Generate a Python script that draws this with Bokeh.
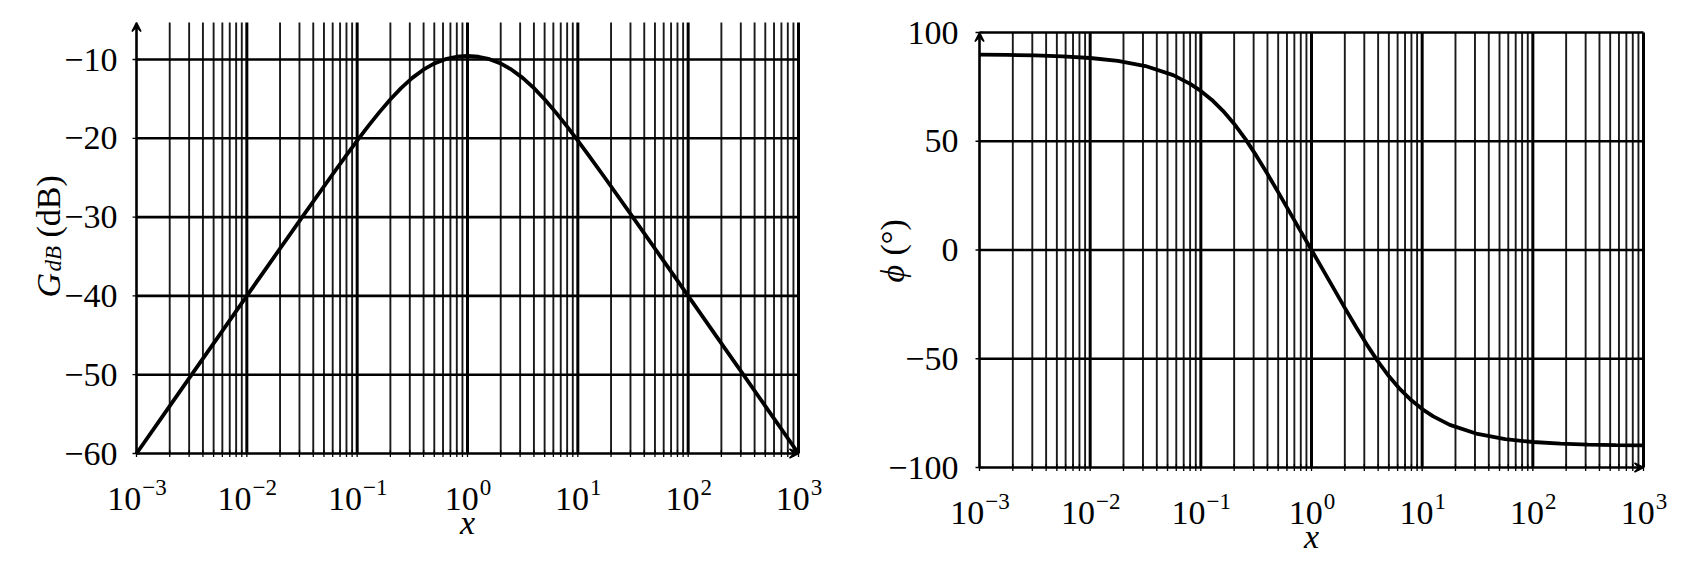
import math
from bokeh.plotting import figure
from bokeh.layouts import row
from bokeh.models import Label, Arrow, VeeHead, ColumnDataSource, Range1d
from bokeh.embed import file_html
from bokeh.resources import INLINE

# ---------------- data ----------------
decades = [1e-3, 1e-2, 1e-1, 1e0, 1e1, 1e2, 1e3]
exponents = ["\u22123", "\u22122", "\u22121", "0", "1", "2", "3"]
gain_ticks = [-60, -50, -40, -30, -20, -10]
phase_ticks = [-100, -50, 0, 50, 100]

x_vals = [0.001, 0.001778, 0.003162, 0.005623, 0.01, 0.01778, 0.03162, 0.05623,
          0.07943, 0.1, 0.1259, 0.1585, 0.1995, 0.2512, 0.3162, 0.3981, 0.5012,
          0.6310, 0.7943, 1.0, 1.259, 1.585, 1.995, 2.512, 3.162, 3.981, 5.012,
          6.310, 7.943, 10.0, 12.59, 17.78, 31.62, 56.23, 100.0, 177.8, 316.2,
          562.3, 1000.0]
gain_db = [-60.0, -55.0, -50.0, -45.0, -40.0, -35.01, -30.03, -25.10, -22.19,
           -20.29, -18.46, -16.71, -15.07, -13.60, -12.33, -11.29, -10.50, -9.96,
           -9.65, -9.54, -9.65, -9.96, -10.50, -11.29, -12.33, -13.60, -15.07,
           -16.71, -18.46, -20.29, -22.19, -25.10, -30.03, -35.01, -40.0, -45.0,
           -50.0, -55.0, -60.0]
phase_deg = [89.83, 89.69, 89.46, 89.03, 88.28, 86.95, 84.58, 80.39, 76.51,
             73.14, 69.00, 64.00, 58.06, 51.19, 43.49, 35.17, 26.48, 17.64, 8.80,
             0.0, -8.80, -17.64, -26.48, -35.17, -43.49, -51.19, -58.06, -64.00,
             -69.00, -73.14, -76.51, -80.39, -84.58, -86.95, -88.28, -89.03,
             -89.46, -89.69, -89.83]

FONT = "Liberation Serif"
FS = 34
SUP_FS = 23
INK = "black"

minor_ticks = [m * d for d in decades[:-1] for m in range(2, 10)]
src = ColumnDataSource(dict(x=x_vals, g=gain_db, ph=phase_deg))


def tick_text(v):
    return ("\u2212" if v < 0 else "") + str(abs(v))


def make_panel(page_x0, width, height, px_lo, px_hi, y_lo, y_ref, py_lo, py_ref,
               y_top, yticks, ylab_gap):
    """page_x0: left of figure on page; px_lo/px_hi: page x of 1e-3 / 1e3;
    py_lo / py_ref: page y of y_lo / y_ref; y_top: top end of the drawn axes."""
    page_y0 = 0
    ppd = (px_hi - px_lo) / 6.0
    x_start = 10 ** (-3 - (px_lo - page_x0) / ppd)
    x_end = 10 ** (3 + (page_x0 + width - px_hi) / ppd)
    ppu = (py_lo - py_ref) / (y_ref - y_lo)
    y_start = y_lo - (page_y0 + height - py_lo) / ppu
    y_end = y_lo + (py_lo - page_y0) / ppu

    p = figure(x_axis_type="log", x_range=Range1d(x_start, x_end),
               y_range=Range1d(y_start, y_end), width=width, height=height,
               min_border=0, x_axis_location=None, y_axis_location=None,
               output_backend="svg", toolbar_location=None,
               background_fill_color="white", border_fill_color="white")
    p.outline_line_color = None
    p.xgrid.visible = False
    p.ygrid.visible = False

    x0, x1 = decades[0], decades[-1]
    # minor vertical grid lines
    p.segment(x0=minor_ticks, x1=minor_ticks, y0=[y_lo] * len(minor_ticks),
              y1=[y_top] * len(minor_ticks), line_color="#1a1a1a", line_width=1.9)
    # decade vertical grid lines
    p.segment(x0=decades[1:], x1=decades[1:], y0=[y_lo] * 6, y1=[y_top] * 6,
              line_color=INK, line_width=3)
    # horizontal grid lines
    hy = [v for v in yticks if v != y_lo]
    p.segment(x0=[x0] * len(hy), x1=[x1] * len(hy), y0=hy, y1=hy,
              line_color=INK, line_width=2.6)
    # small tick marks outside the axes
    p.scatter(x=decades + minor_ticks, y=[y_lo] * (7 + len(minor_ticks)),
              marker="dash", size=7, angle=math.pi / 2, line_color=INK,
              line_width=1.3)
    p.scatter(x=[x0] * len(yticks), y=yticks, marker="dash", size=8,
              line_color=INK, line_width=1.3)

    # y tick labels
    for v in yticks:
        p.add_layout(Label(x=x0, y=v, x_offset=-ylab_gap, text=tick_text(v),
                           text_align="right", text_baseline="middle",
                           text_font=FONT, text_font_size=f"{FS}px", text_color=INK))
    # x tick labels "10^k"
    base_y = y_lo - 45 / ppu
    sup_y = y_lo - 34 / ppu
    for t, e in zip(decades, exponents):
        w10 = FS
        wsup = SUP_FS * (0.5 * len(e.replace("\u2212", "")) +
                         (0.564 if "\u2212" in e else 0))
        edge = (w10 - wsup) / 2.0
        p.add_layout(Label(x=t, y=base_y, x_offset=edge, text="10",
                           text_align="right", text_baseline="alphabetic",
                           text_font=FONT, text_font_size=f"{FS}px", text_color=INK))
        p.add_layout(Label(x=t, y=sup_y, x_offset=edge + 1, text=e,
                           text_align="left", text_baseline="alphabetic",
                           text_font=FONT, text_font_size=f"{SUP_FS}px",
                           text_color=INK))
    # x axis title
    p.add_layout(Label(x=1.0, y=y_lo - 69 / ppu, text="x", text_align="center",
                       text_baseline="alphabetic", text_font=FONT,
                       text_font_style="italic", text_font_size=f"{FS}px",
                       text_color=INK))
    # axes with arrow heads
    p.add_layout(Arrow(end=VeeHead(size=9, line_color=INK, fill_color=INK,
                                   line_width=1.5),
                       x_start=x0, y_start=y_lo, x_end=x0, y_end=y_top,
                       line_color=INK, line_width=2.6))
    p.add_layout(Arrow(end=VeeHead(size=9, line_color=INK, fill_color=INK,
                                   line_width=1.5),
                       x_start=x0, y_start=y_lo, x_end=x1, y_end=y_lo,
                       line_color=INK, line_width=2.6))
    return p, ppu


# ---------------- left: gain ----------------
p1, ppu1 = make_panel(0, 838, 545, 136, 798, -60, -10, 453, 59, -5.3,
                      gain_ticks, 19)
p1.line("x", "g", source=src, line_color=INK, line_width=3.8)

lab = dict(x=decades[0], angle=math.pi / 2, text_align="left",
           text_baseline="alphabetic", text_font=FONT, text_color=INK)
p1.add_layout(Label(text="G", x_offset=-88, y=-60 + 156 / ppu1,
                    text_font_style="italic", text_font_size=f"{FS}px", **lab))
p1.add_layout(Label(text="dB", x_offset=-83, y=-60 + 182 / ppu1,
                    text_font_style="italic", text_font_size=f"{SUP_FS}px", **lab))
p1.add_layout(Label(text="(dB)", x_offset=-88, y=-60 + 216 / ppu1,
                    text_font_size=f"{FS}px", **lab))

# ---------------- right: phase ----------------
p2, ppu2 = make_panel(838, 846, 555, 979, 1643, -100, 100, 467, 32, 100,
                      phase_ticks, 21)
p2.line("x", "ph", source=src, line_color=INK, line_width=3.8)

p2.add_layout(Label(text="\u03d5", x_offset=-87, y=-100 + 185 / ppu2,
                    text_font_style="italic", text_font_size=f"{FS}px", **lab))
p2.add_layout(Label(text="(\u00b0)", x_offset=-87, y=-100 + 212 / ppu2,
                    text_font_size=f"{FS}px", **lab))

layout = row(p1, p2)
open("out.html", "w").write(file_html(layout, INLINE))
